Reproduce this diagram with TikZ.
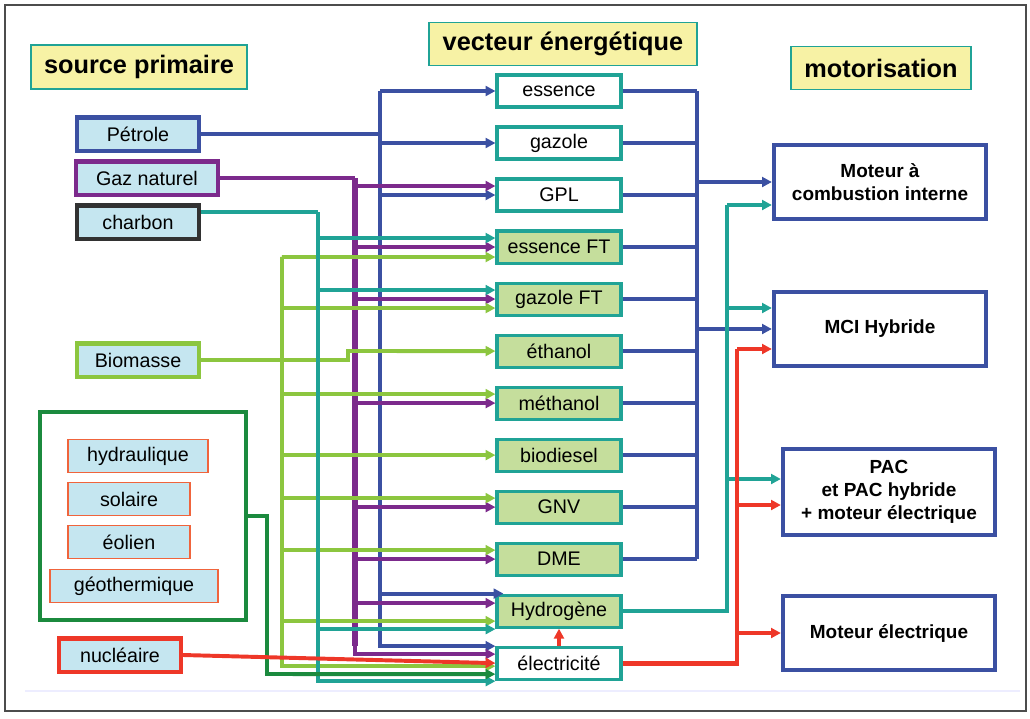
\documentclass[tikz,border=0pt]{standalone}
\usepackage{fontspec}
\setmainfont{Liberation Sans}
\usetikzlibrary{arrows.meta,positioning,calc}

\definecolor{bleupet}{RGB}{59,80,162}
\definecolor{violgaz}{RGB}{124,42,140}
\definecolor{turq}{RGB}{32,163,150}
\definecolor{vertbio}{RGB}{140,198,63}
\definecolor{vertren}{RGB}{27,138,62}
\definecolor{rougenuc}{RGB}{238,55,40}
\definecolor{orangeren}{RGB}{240,100,60}
\definecolor{gris}{RGB}{50,50,50}
\definecolor{fondbleu}{RGB}{197,230,240}
\definecolor{fondvert}{RGB}{197,222,156}
\definecolor{jaune}{RGB}{247,242,165}

\begin{document}
\begin{tikzpicture}[x=0.025cm,y=-0.025cm,node distance=1.3cm,>={Triangle[length=7pt,width=7pt]},
    font=\fontsize{14}{16}\selectfont]
  \tikzstyle{titre}=[draw=turq,line width=1pt,fill=jaune,inner sep=0pt,font=\bfseries\fontsize{18}{20}\selectfont]
  \tikzstyle{source}=[fill=fondbleu,line width=3pt,minimum width=3.05cm,minimum height=0.83cm,inner sep=0pt]
  \tikzstyle{renouv}=[fill=fondbleu,draw=orangeren,line width=0.9pt,minimum height=0.82cm,inner sep=0pt]
  \tikzstyle{vect}=[draw=turq,line width=2.2pt,fill=white,minimum width=3.1cm,minimum height=0.8cm,inner sep=0pt]
  \tikzstyle{vectbio}=[vect,fill=fondvert]
  \tikzstyle{moteur}=[draw=bleupet,line width=3pt,fill=white,minimum width=5.3cm,minimum height=1.85cm,
    align=center,font=\bfseries\fontsize{13.5}{16.5}\selectfont]
  \tikzstyle{lien}=[line width=2.8pt]
  \tikzstyle{bus}=[line width=3.2pt]

  \useasboundingbox (0,0) rectangle (1030,718);
  \draw[line width=1pt,black!70] (5,5) rectangle (1026,711);
  \draw[line width=0.8pt,blue!7] (25,691) -- (1020,691);

  % titres
  \node [titre,minimum width=5.4cm,minimum height=1.1cm] (tsrc) at (139,67) {source primaire};
  \node [titre,minimum width=6.7cm,minimum height=1.08cm] (tvec) at (563,44) {vecteur énergétique};
  \node [titre,minimum width=4.5cm,minimum height=1.08cm] (tmot) at (881,68) {motorisation};

  % sources primaires
  \node [source,draw=bleupet] (pet) at (138,134) {Pétrole};
  \node [source,draw=violgaz,minimum width=3.53cm] (gn) at (147,178) {Gaz naturel};
  \node [source,draw=gris] (cha) at (138,222) {charbon};
  \node [source,draw=vertbio] (bio) at (138,360) {Biomasse};
  \node [draw=vertren,line width=3pt,minimum width=5.15cm,minimum height=5.2cm] (ren) at (143,516) {};
  \node [renouv,minimum width=3.5cm] (hydrau) at (138,456) {hydraulique};
  \node [renouv,minimum width=3.05cm] (sol) at (129,499) {solaire};
  \node [renouv,minimum width=3.05cm] (eol) at (129,542) {éolien};
  \node [renouv,minimum width=4.2cm] (geo) at (134,586) {géothermique};
  \node [source,draw=rougenuc] (nuc) at (120,655) {nucléaire};

  % vecteurs
  \node [vect] (ess) at (559,91) {essence};
  \node [vect] (gzl) [below of=ess] {gazole};
  \node [vect] (gpl) [below of=gzl] {GPL};
  \node [vectbio] (eft) [below of=gpl] {essence FT};
  \node [vectbio] (gft) [below of=eft] {gazole FT};
  \node [vectbio] (eth) [below of=gft] {éthanol};
  \node [vectbio] (met) [below of=eth] {méthanol};
  \node [vectbio] (bdl) [below of=met] {biodiesel};
  \node [vectbio] (gnv) [below of=bdl] {GNV};
  \node [vectbio] (dme) [below of=gnv] {DME};
  \node [vectbio] (hyd) [below of=dme] {Hydrogène};
  \node [vect] (elec) [below of=hyd] {électricité};

  % motorisations
  \node [moteur] (mci) at (880,182) {Moteur à\\combustion interne};
  \node [moteur] (hyb) at (880,329) {MCI Hybride};
  \node [moteur,minimum height=2.15cm] (pac) at (889,492) {PAC\\et PAC hybride\\+ moteur électrique};
  \node [moteur] (mel) at (889,633) {Moteur électrique};

  % petrole
  \coordinate (bP) at (380,91);
  \draw[lien,bleupet] (pet.east) -- (pet.east -| bP);
  \foreach \v/\d in {ess/0,gzl/0,gpl/0,elec/-17}
    \draw[lien,bleupet,->] (bP) |- ($(\v.west)+(0,\d)$);
  \draw[lien,bleupet,->] (bP) |- ($(hyd.north west)+(8,0)$);

  % gaz naturel
  \coordinate (bG) at (355,178);
  \draw[lien,violgaz] (gn.east) -- (bG);
  \draw[violgaz,line width=4.8pt] (bG) -- (bG |- elec.north);
  \foreach \v/\d in {gpl/-9,eft/0,gft/0,met/0,gnv/0,dme/0,hyd/-8,elec/-9}
    \draw[lien,violgaz,->] (bG) |- ($(\v.west)+(0,\d)$);

  % biomasse
  \coordinate (bB) at (282,257);
  \coordinate (jB) at (348,351);
  \draw[lien,vertbio,->] (bio.east) -| (jB) -- (eth.west);
  \foreach \v/\d in {eft/10,gft/9,met/-9,bdl/0,gnv/-9,dme/-9,hyd/10,elec/3}
    \draw[lien,vertbio,->] (bB) |- ($(\v.west)+(0,\d)$);

  % charbon
  \coordinate (bC) at (318,212);
  \draw[lien,turq] ($(cha.east)+(0,-10)$) -- (bC);
  \foreach \v/\d in {eft/-9,gft/-9,hyd/18,elec/18}
    \draw[lien,turq,->] (bC) |- ($(\v.west)+(0,\d)$);

  % renouvelables
  \coordinate (bR) at (267,674);
  \draw[lien,vertren,->] (ren.east) -| (bR) -- ($(elec.west)+(0,11)$);

  % nucleaire
  \draw[lien,rougenuc,->] (nuc.east) -- (elec.west);
  \draw[lien,rougenuc,->] (elec.north) -- (hyd.south);

  % vers les motorisations
  \coordinate (sV) at (697,91);
  \foreach \v in {ess,gzl,gpl,eft,gft,eth,met,bdl,gnv,dme}
    \draw[lien,bleupet] (\v.east) -- (\v.east -| sV);
  \draw[bus,bleupet] (sV) -- (sV |- dme.east);
  \draw[lien,bleupet,->] (sV |- mci.west) -- (mci.west);
  \draw[lien,bleupet,->] (sV |- hyb.west) -- (hyb.west);

  \coordinate (sH) at (727,205);
  \draw[lien,turq] (hyd.east) -| (sH);
  \draw[lien,turq,->] (sH) -- ($(mci.west)+(0,23)$);
  \foreach \v/\d in {hyb/-21,pac/-13}
    \draw[lien,turq,->] (sH) |- ($(\v.west)+(0,\d)$);

  \coordinate (sE) at (737,349);
  \draw[rougenuc,line width=3.4pt] (elec.east) -| (sE);
  \draw[lien,rougenuc,->] (sE) -- ($(hyb.west)+(0,20)$);
  \foreach \v/\d in {pac/13,mel/0}
    \draw[lien,rougenuc,->] (sE) |- ($(\v.west)+(0,\d)$);
\end{tikzpicture}
\end{document}
